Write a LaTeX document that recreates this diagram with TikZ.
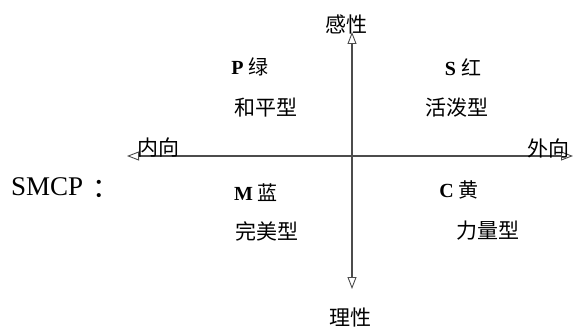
\documentclass[tikz,border=0pt]{standalone}
\usepackage{fontspec}
\setmainfont{Liberation Serif}
\newfontfamily\cjk{Noto Sans CJK SC}
\usetikzlibrary{arrows.meta}
\begin{document}
\begin{tikzpicture}[x=1pt,y=-1pt,
  lbl/.style={inner sep=0pt, anchor=center, font=\cjk\fontsize{21}{24}\selectfont},
  lat/.style={inner sep=0pt, anchor=center, font=\fontsize{20}{24}\selectfont},
  tip/.tip={Triangle[open,length=12pt,width=9pt,line width=0.9pt]},
  axis/.style={line width=1.4pt, draw=black!70, tip-tip}]
\useasboundingbox (0,0) rectangle (574,329);
\coordinate (top) at (352,32);
\coordinate (bot) at (352,289);
\coordinate (left) at (127,156);
\coordinate (right) at (573,156);
\draw[axis] (bot) -- (top);
\draw[axis] (left) -- (right);
\node[lbl] (gx) at (346,24) {感性};
\node[lbl] (lx) at (350,318) {理性};
\node[lbl] (nx) at (158,148) {内向};
\node[lbl] (wx) at (548,148) {外向};
\node[lat] (p) at (250,67) {\textbf{P} {\cjk 绿}};
\node[lbl] (hp) at (266,108) {和平型};
\node[lat] (s) at (463,67) {\textbf{S} {\cjk 红}};
\node[lbl] (hb) at (457,108) {活泼型};
\node[lat] (m) at (256,193) {\textbf{M} {\cjk 蓝}};
\node[lbl] (wm) at (267,231) {完美型};
\node[lat] (cc) at (459,190) {\textbf{C} {\cjk 黄}};
\node[lbl] (ll) at (488,231) {力量型};
\node[inner sep=0pt, anchor=west, font=\fontsize{27}{30}\selectfont] (smcp) at (11,188) {SMCP\hspace{9pt}{\cjk\raisebox{-2pt}{：}}};
\end{tikzpicture}
\end{document}
